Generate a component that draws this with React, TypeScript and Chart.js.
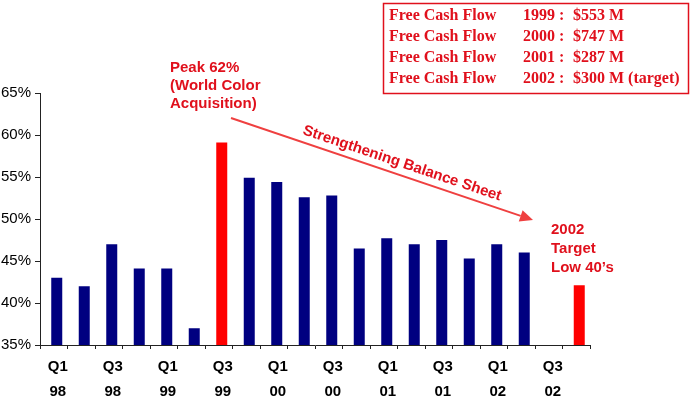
import React, { useEffect, useRef } from "react";
import { Chart, registerables } from "chart.js";

Chart.register(...registerables);

// ---- data ----
const quarters = [
  "Q1", "Q2", "Q3", "Q4",
  "Q1", "Q2", "Q3", "Q4",
  "Q1", "Q2", "Q3", "Q4",
  "Q1", "Q2", "Q3", "Q4",
  "Q1", "Q2", "Q3", "Q4",
];
const years = [
  "98", "98", "98", "98",
  "99", "99", "99", "99",
  "00", "00", "00", "00",
  "01", "01", "01", "01",
  "02", "02", "02", "02",
];
const debtRatio: (number | null)[] = [
  43, 42, 47, 44.1,
  44.1, 37, 59.1, 54.9,
  54.4, 52.6, 52.8, 46.5,
  47.7, 47, 47.5, 45.3,
  47, 46, null, 42.1,
];
const highlighted = ["Q3 99", "Q4 02"];
const labelledQuarters = ["Q1", "Q3"];
const yMin = 35;
const yMax = 65;
const yStep = 5;

const cashFlowLabels = ["Free Cash Flow", "Free Cash Flow", "Free Cash Flow", "Free Cash Flow"];
const cashFlowYears = ["1999 :", "2000 :", "2001 :", "2002 :"];
const cashFlowValues = ["$553 M", "$747 M", "$287 M", "$300 M (target)"];

const peakNote = ["Peak 62%", "(World Color", "Acquisition)"];
const targetNote = ["2002", "Target", "Low 40\u2019s"];
const trendNote = "Strengthening Balance Sheet";

// ---- styles ----
const NAVY = "#000080";
const RED = "#ff0000";
const TEXT_RED = "#e0101c";
const ARROW_RED = "#ef4040";
const SANS = "'Liberation Sans', Arial, sans-serif";
const SERIF = "'Liberation Serif', 'Times New Roman', serif";
const BAR_SHIFT = 3;

const W = 694;
const H = 401;

const barShiftPlugin = {
  id: "barShift",
  beforeDatasetsDraw(chart: any) {
    chart.ctx.save();
    chart.ctx.translate(BAR_SHIFT, 0);
  },
  afterDatasetsDraw(chart: any) {
    chart.ctx.restore();
  },
};

const annotationPlugin = {
  id: "annotations",
  afterDraw(chart: any) {
    const ctx: CanvasRenderingContext2D = chart.ctx;
    ctx.save();

    // Free cash flow box
    ctx.strokeStyle = TEXT_RED;
    ctx.lineWidth = 1.5;
    ctx.strokeRect(383.5, 3.5, 305, 90);
    ctx.fillStyle = TEXT_RED;
    ctx.font = `bold 16px ${SERIF}`;
    ctx.textBaseline = "alphabetic";
    ctx.textAlign = "left";
    cashFlowLabels.forEach((l, i) => {
      const y = 20 + i * 21;
      ctx.fillText(l, 389, y);
      ctx.fillText(cashFlowYears[i], 523, y);
      ctx.fillText(cashFlowValues[i], 573, y);
    });

    // peak note
    ctx.font = `bold 15px ${SANS}`;
    peakNote.forEach((l, i) => ctx.fillText(l, 170, 72 + i * 18));

    // target note
    targetNote.forEach((l, i) => ctx.fillText(l, 551, 234 + i * 19));

    // arrow
    const x0 = 231, y0 = 118, x1 = 533, y1 = 220;
    const ang = Math.atan2(y1 - y0, x1 - x0);
    const headLen = 13, headHalf = 6;
    ctx.strokeStyle = ARROW_RED;
    ctx.lineWidth = 2;
    ctx.beginPath();
    ctx.moveTo(x0, y0);
    ctx.lineTo(x1 - headLen * Math.cos(ang), y1 - headLen * Math.sin(ang));
    ctx.stroke();
    ctx.fillStyle = ARROW_RED;
    ctx.beginPath();
    ctx.moveTo(x1, y1);
    const bx = x1 - headLen * Math.cos(ang);
    const by = y1 - headLen * Math.sin(ang);
    ctx.lineTo(bx + headHalf * Math.sin(ang), by - headHalf * Math.cos(ang));
    ctx.lineTo(bx - headHalf * Math.sin(ang), by + headHalf * Math.cos(ang));
    ctx.closePath();
    ctx.fill();

    // rotated trend text
    ctx.save();
    ctx.translate(302, 134);
    ctx.rotate(ang);
    ctx.fillStyle = TEXT_RED;
    ctx.font = `bold 15px ${SANS}`;
    ctx.fillText(trendNote, 0, 0);
    ctx.restore();

    ctx.restore();
  },
};

export default function App() {
  const canvasRef = useRef<HTMLCanvasElement>(null);

  useEffect(() => {
    document.body.style.margin = "0";
    const canvas = canvasRef.current;
    if (!canvas) return;
    const labels = quarters.map((q, i) => `${q} ${years[i]}`);
    const colors = labels.map((l) => (highlighted.includes(l) ? RED : NAVY));

    const chart = new Chart(canvas, {
      type: "bar",
      data: {
        labels,
        datasets: [
          {
            data: debtRatio as any,
            backgroundColor: colors,
            borderWidth: 0,
            categoryPercentage: 1,
            barPercentage: 0.4,
          },
        ],
      },
      options: {
        responsive: false,
        animation: false,
        devicePixelRatio: 1,
        layout: { padding: { left: 0, top: 93, right: 104, bottom: 0 } },
        plugins: {
          legend: { display: false },
          tooltip: { enabled: false },
          title: { display: false },
        },
        scales: {
          x: {
            type: "category",
            offset: true,
            grid: {
              offset: true,
              drawOnChartArea: false,
              drawTicks: true,
              tickLength: 4,
              color: "#222",
            },
            border: { display: true, color: "#222", width: 1 },
            ticks: {
              autoSkip: false,
              maxRotation: 0,
              minRotation: 0,
              padding: 5,
              labelOffset: 4,
              color: "#000",
              font: { family: SANS, size: 15, weight: "bold", lineHeight: 25 / 15 },
              callback: (_v: any, i: number) =>
                labelledQuarters.includes(quarters[i]) ? [quarters[i], years[i]] : "",
            },
            afterFit: (scale: any) => {
              scale.height = 56;
            },
          },
          y: {
            min: yMin,
            max: yMax,
            grid: {
              drawOnChartArea: false,
              drawTicks: true,
              tickLength: 5,
              color: "#222",
            },
            border: { display: true, color: "#222", width: 1 },
            ticks: {
              stepSize: yStep,
              padding: 4,
              color: "#000",
              font: { family: SANS, size: 15 },
              callback: (v: any) => `${v}%`,
            },
            afterFit: (scale: any) => {
              scale.width = 40;
            },
          },
        },
      },
      plugins: [barShiftPlugin, annotationPlugin],
    });
    return () => chart.destroy();
  }, []);

  return (
    <div style={{ position: "absolute", left: 0, top: 0, width: W, height: H, background: "#fff" }}>
      <canvas ref={canvasRef} width={W} height={H} style={{ width: W, height: H, display: "block" }} />
    </div>
  );
}
